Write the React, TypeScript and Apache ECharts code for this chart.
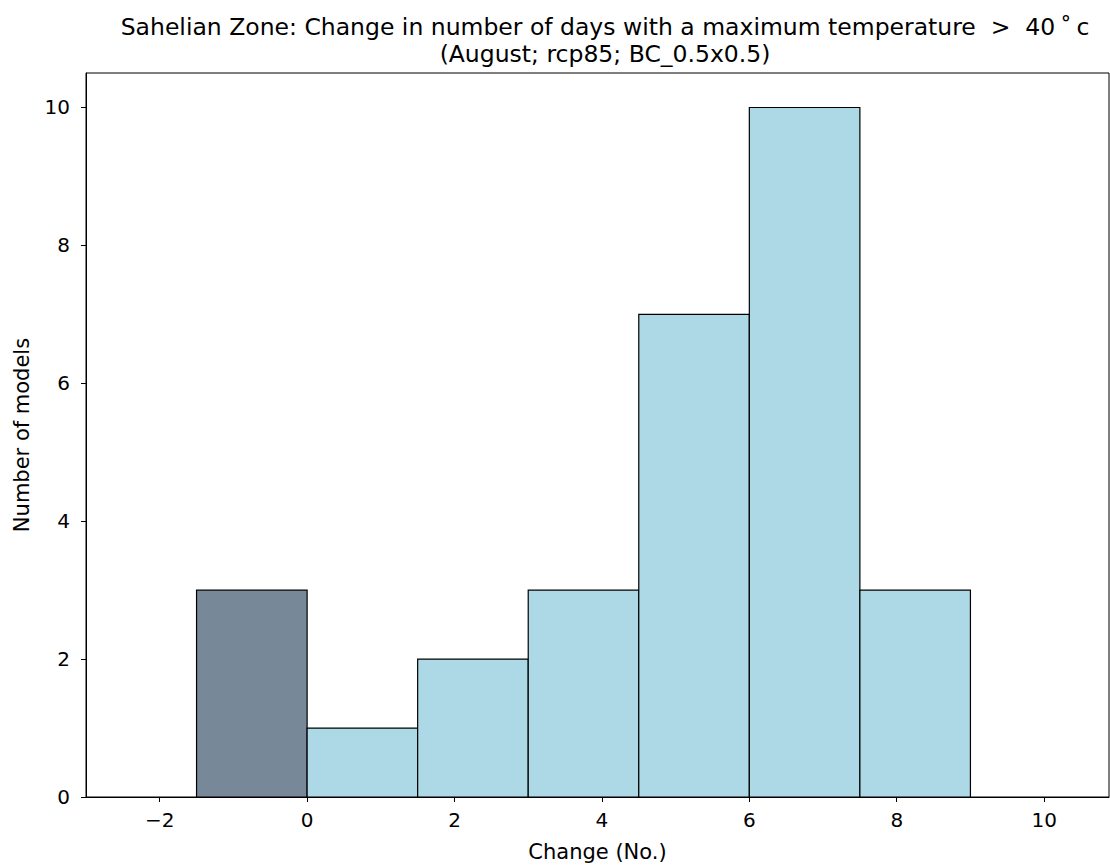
import React, { useEffect, useRef } from "react";
import * as echarts from "echarts";

const binStarts = [-1.5, 0, 1.5, 3, 4.5, 6, 7.5];
const binEnds = [0, 1.5, 3, 4.5, 6, 7.5, 9];
const counts = [3, 1, 2, 3, 7, 10, 3];
const barColors = ["#778899", "#ADD8E6", "#ADD8E6", "#ADD8E6", "#ADD8E6", "#ADD8E6", "#ADD8E6"];
const xTicks = [-2, 0, 2, 4, 6, 8, 10];
const titleLines = [
  "Sahelian Zone: Change in number of days with a maximum temperature  >  40\u2009\u02DA\u2009c",
  "(August; rcp85; BC_0.5x0.5)",
];

const FONT = "DejaVu Sans";

export default function App() {
  const ref = useRef<HTMLDivElement>(null);
  useEffect(() => {
    if (!ref.current) return;
    const chart = echarts.init(ref.current, null, { renderer: "svg" });
    const data = binStarts.map((s, i) => [s, binEnds[i], counts[i], i]);
    chart.setOption({
      animation: false,
      backgroundColor: "#ffffff",
      title: {
        text: titleLines.join("\n"),
        left: 600,
        top: 8,
        textAlign: "center",
        textStyle: {
          fontFamily: FONT,
          fontSize: 23.5,
          fontWeight: "normal",
          color: "#000",
          lineHeight: 27,
        },
      },
      grid: {
        left: 86,
        right: 1,
        top: 73,
        bottom: 70,
        show: true,
        borderColor: "#000",
        borderWidth: 1,
        backgroundColor: "transparent",
      },
      xAxis: {
        type: "value",
        min: -3,
        max: 10.88,
        name: "Change (No.)",
        nameLocation: "middle",
        nameGap: 44,
        nameTextStyle: { fontFamily: FONT, fontSize: 21, color: "#000" },
        axisLine: { show: true, onZero: false, lineStyle: { color: "#000", width: 1 } },
        axisTick: { show: true, length: 5, customValues: xTicks, lineStyle: { color: "#000" } },
        axisLabel: {
          customValues: xTicks,
          margin: 13,
          fontFamily: FONT,
          fontSize: 20,
          color: "#000",
          formatter: (v: number) => (v < 0 ? "\u2212" + Math.abs(v) : String(v)),
        },
        splitLine: { show: false },
      },
      yAxis: {
        type: "value",
        min: 0,
        max: 10.5,
        interval: 2,
        name: "Number of models",
        nameLocation: "middle",
        nameGap: 54,
        nameTextStyle: { fontFamily: FONT, fontSize: 21, color: "#000" },
        axisLine: { show: true, onZero: false, lineStyle: { color: "#000", width: 1 } },
        axisTick: { show: true, length: 5, lineStyle: { color: "#000" } },
        axisLabel: {
          margin: 16,
          fontFamily: FONT,
          fontSize: 20,
          color: "#000",
          showMaxLabel: false,
        },
        splitLine: { show: false },
      },
      series: [
        {
          type: "custom",
          encode: { x: [0, 1], y: 2 },
          data,
          renderItem: (params: any, api: any) => {
            const p0 = api.coord([api.value(0), api.value(2)]);
            const p1 = api.coord([api.value(1), 0]);
            const idx = api.value(3);
            return {
              type: "rect",
              shape: { x: p0[0], y: p0[1], width: p1[0] - p0[0], height: p1[1] - p0[1] },
              style: { fill: barColors[idx], stroke: "#000", lineWidth: 1.2 },
            };
          },
        },
      ],
    });
    return () => chart.dispose();
  }, []);
  return (
    <div
      ref={ref}
      style={{ position: "fixed", left: 0, top: 0, width: 1110, height: 867 }}
    />
  );
}
